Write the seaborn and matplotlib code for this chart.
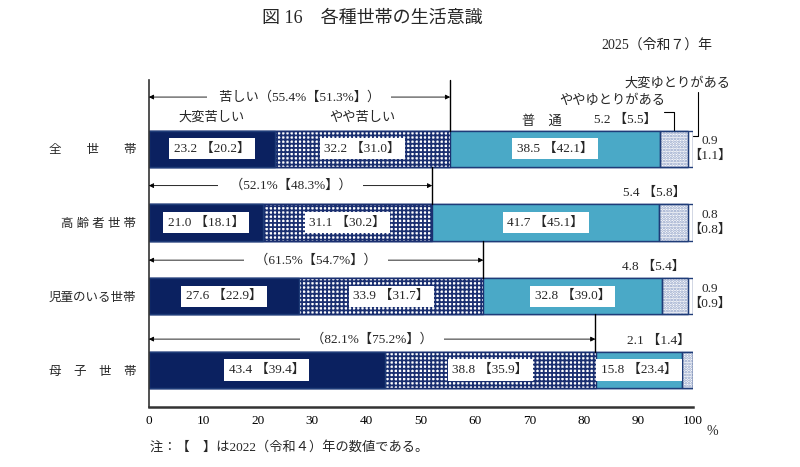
import numpy as np
import pandas as pd
import matplotlib.pyplot as plt
import seaborn as sns

households = ['全　　世　　帯', '高 齢 者 世 帯', '児童のいる世帯', '母　子　世　帯']
levels = ['大変苦しい', 'やや苦しい', '普　通', 'ややゆとりがある', '大変ゆとりがある']

# 2025 values
very_hard = [23.2, 21.0, 27.6, 43.4]
somewhat_hard = [32.2, 31.1, 33.9, 38.8]
normal = [38.5, 41.7, 32.8, 15.8]
somewhat_easy = [5.2, 5.4, 4.8, 2.1]
very_easy = [0.9, 0.8, 0.9, 0.0]
hard_total = [55.4, 52.1, 61.5, 82.1]

# 2022 values
very_hard_22 = [20.2, 18.1, 22.9, 39.4]
somewhat_hard_22 = [31.0, 30.2, 31.7, 35.9]
normal_22 = [42.1, 45.1, 39.0, 23.4]
somewhat_easy_22 = [5.5, 5.8, 5.4, 1.4]
very_easy_22 = [1.1, 0.8, 0.9, None]
hard_total_22 = [51.3, 48.3, 54.7, 75.2]

NAVY = '#0b2160'
EDGE = '#1f3c78'
TEAL = '#4aa9c7'

sns.set_theme(style='white')
plt.rcParams['font.family'] = ['Liberation Serif', 'Noto Sans CJK JP', 'DejaVu Sans']
plt.rcParams['hatch.linewidth'] = 1.3

df = pd.DataFrame({'世帯': households})
df['c1'] = very_hard
df['c2'] = df['c1'] + somewhat_hard
df['c3'] = df['c2'] + normal
df['c4'] = df['c3'] + somewhat_easy
df['c5'] = df['c4'] + very_easy

fig = plt.figure(figsize=(8, 4.67), dpi=100)
ax = fig.add_axes([0.186, 0.1285, 0.68, 0.70])

layers = [
    ('c5', 'white', None, EDGE),
    ('c4', 'white', '......', '#8a9cc4'),
    ('c3', TEAL, None, EDGE),
    ('c2', 'white', '++++', '#1a2f70'),
    ('c1', NAVY, None, EDGE),
]
bw = 0.49
for col, face, hatch, edge in layers:
    sns.barplot(data=df, x=col, y='世帯', orient='h', color=face, saturation=1,
                width=bw, edgecolor=edge, linewidth=1.0, hatch=hatch,
                errorbar=None, ax=ax)
# outline of the lighter segments
for i in range(4):
    ax.barh(i, somewhat_easy[i], left=df['c3'][i], height=bw, fill=False,
            edgecolor=EDGE, linewidth=1.0, zorder=3)

ax.set_xlim(0, 100)
ax.set_ylim(3.5, -0.93)
ax.set_xlabel('')
ax.set_ylabel('')
ax.set_xticks(np.arange(0, 101, 10))
ax.tick_params(axis='x', direction='in', length=4, width=1.2, colors='#333333',
               labelsize=9.5, pad=6, labelcolor='black')
ax.tick_params(axis='y', length=0, pad=9, labelsize=9)
for s in ['top', 'right']:
    ax.spines[s].set_visible(False)
ax.spines['left'].set_color('#333333')
ax.spines['left'].set_linewidth(1.2)
ax.spines['bottom'].set_color('#333333')
ax.spines['bottom'].set_linewidth(1.8)

box = dict(boxstyle='square,pad=0.35', facecolor='white', edgecolor='none')
fs = 9.5
segs = [(very_hard, very_hard_22, 'c1'), (somewhat_hard, somewhat_hard_22, 'c2'),
        (normal, normal_22, 'c3')]
for i in range(4):
    for vals, prev, col in segs:
        center = df[col][i] - vals[i] / 2
        ax.text(center, i, f'{vals[i]:.1f} 【{prev[i]:.1f}】', ha='center', va='center',
                fontsize=fs, bbox=box, zorder=5)

# small values above bar
for i in range(4):
    xr = df['c3'][i] - 0.5 if i == 0 else df['c4'][i] - 0.5
    ax.text(xr, i - bw / 2 - 0.07, f'{somewhat_easy[i]:.1f} 【{somewhat_easy_22[i]:.1f}】',
            ha='right', va='bottom', fontsize=fs)
    if very_easy_22[i] is not None:
        ax.text(103.1, i, f'{very_easy[i]:.1f}\n【{very_easy_22[i]:.1f}】', ha='center',
                va='center', fontsize=fs, linespacing=1.3)

# hardship arrows
arrow_y = [-0.70, 0.50, 1.51, 2.58]
for i in range(4):
    y = arrow_y[i]
    ax.annotate('', xy=(0, y), xytext=(hard_total[i], y),
                arrowprops=dict(arrowstyle='<|-|>', color='black', lw=0.6,
                                shrinkA=0, shrinkB=0, mutation_scale=7))
    prefix = '苦しい' if i == 0 else ''
    ax.text(hard_total[i] / 2, y, f'   {prefix}（{hard_total[i]:.1f}%【{hard_total_22[i]:.1f}%】）   ',
            ha='center', va='center', fontsize=fs,
            bbox=dict(boxstyle='square,pad=0.1', facecolor='white', edgecolor='none'))
    top = -0.93 if i == 0 else i - 1 + bw / 2
    ax.plot([hard_total[i], hard_total[i]], [top, i - bw / 2], color='black', lw=1.0,
            clip_on=False, zorder=4)

# category headers (first row)
ax.text(very_hard[0] / 2, -0.42, levels[0], ha='center', va='center', fontsize=fs)
ax.text(df['c2'][0] - somewhat_hard[0] / 2, -0.42, levels[1], ha='center', va='center', fontsize=fs)
ax.text(df['c3'][0] - normal[0] / 2 - 2.4, -0.37, levels[2], ha='center', va='center', fontsize=fs)
mid4 = df['c4'][0] - somewhat_easy[0] / 2
ax.text(mid4 - 1.6, -0.65, levels[3], ha='right', va='center', fontsize=fs)
ax.plot([mid4 - 1.8, mid4, mid4], [-0.5, -0.5, -bw / 2], color='black', lw=0.8,
        clip_on=False)
ax.text(106.9, -0.88, levels[4], ha='right', va='center', fontsize=fs)
ax.plot([100.9, 100.9, df['c5'][0]], [-0.77, -0.17, -0.17], color='black', lw=0.8,
        clip_on=False)

fig.text(0.465, 0.961, '図 16　各種世帯の生活意識', ha='center', va='center', fontsize=13)
fig.text(0.89, 0.904, '2025（令和７）年', ha='right', va='center', fontsize=10)
fig.text(0.89, 0.075, '%', ha='center', va='center', fontsize=10)
fig.text(0.188, 0.043, '注：【　】は2022（令和４）年の数値である。', ha='left', va='center',
         fontsize=9.5)

fig.savefig('out.png', dpi=100)
